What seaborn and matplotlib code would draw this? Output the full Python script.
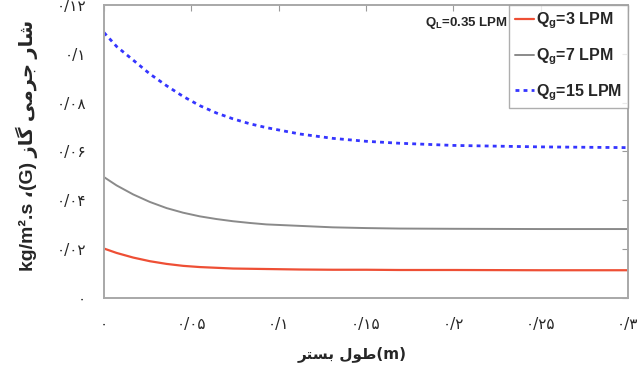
import matplotlib
matplotlib.use("Agg")
import matplotlib.pyplot as plt
import pandas as pd
import seaborn as sns

# Bed length (m) and gas mass flux G (kg/m2.s) for each gas flow rate
bed_length = [0.0, 0.0072, 0.0167, 0.0263, 0.0358, 0.0453, 0.0549, 0.0644,
              0.0739, 0.0834, 0.093, 0.112, 0.131, 0.150, 0.169, 0.200,
              0.250, 0.300]
flux_qg3 = [0.0201, 0.0183, 0.0164, 0.0149, 0.0138, 0.0130, 0.0125, 0.0122,
            0.0119, 0.0118, 0.0117, 0.0115, 0.0114, 0.0114, 0.0113, 0.0113,
            0.0112, 0.0112]
flux_qg7 = [0.0494, 0.0460, 0.0423, 0.0392, 0.0367, 0.0348, 0.0333, 0.0322,
            0.0313, 0.0306, 0.0300, 0.0294, 0.0288, 0.0285, 0.0283, 0.0282,
            0.0281, 0.0281]
flux_qg15 = [0.1087, 0.1030, 0.0974, 0.0917, 0.0869, 0.0825, 0.0787, 0.0757,
             0.0733, 0.0713, 0.0697, 0.0671, 0.0653, 0.0641, 0.0633, 0.0624,
             0.0618, 0.0615]

series_labels = ["Q$_{\\mathrm{g}}$=3 LPM", "Q$_{\\mathrm{g}}$=7 LPM",
                 "Q$_{\\mathrm{g}}$=15 LPM"]
liquid_note = "Q$_{\\mathrm{L}}$=0.35 LPM"

x_ticks = [0.0, 0.05, 0.10, 0.15, 0.20, 0.25, 0.30]
x_tick_labels = ["۰", "۰/۰۵", "۰/۱", "۰/۱۵", "۰/۲", "۰/۲۵", "۰/۳"]
y_ticks = [0.0, 0.02, 0.04, 0.06, 0.08, 0.10, 0.12]
y_tick_labels = ["۰", "۰/۰۲", "۰/۰۴", "۰/۰۶", "۰/۰۸", "۰/۱", "۰/۱۲"]

# Persian axis titles, written with presentation forms in display order
x_title = "\uFEAE\uFE98\uFEB4\uFE91 \uFEDD\uFEEE\uFEC3(m)"
y_title = ("kg/m\u00b2.s \u060C(G) \uFEAF\uFE8E\uFB94 "
           "\uFBFD\uFEE3\uFEAE\uFE9F \uFEAD\uFE8E\uFEB7")

sns.set_theme(style="white")
plt.rcParams["font.family"] = ["Liberation Sans", "DejaVu Sans"]
plt.rcParams["mathtext.fontset"] = "custom"
plt.rcParams["mathtext.rm"] = "Liberation Sans:bold"
plt.rcParams["mathtext.bf"] = "Liberation Sans:bold"
plt.rcParams["mathtext.it"] = "Liberation Sans:bold"

n = len(bed_length)
df = pd.DataFrame({
    "x": bed_length * 3,
    "G": flux_qg3 + flux_qg7 + flux_qg15,
    "series": [series_labels[0]] * n + [series_labels[1]] * n
              + [series_labels[2]] * n,
})

fig = plt.figure(figsize=(6.44, 3.71), dpi=100)
ax = fig.add_axes([0.1615, 0.198, 0.8135, 0.7885])

styles = {
    series_labels[0]: dict(color="#ee4f35", lw=1.6, ls="-"),
    series_labels[1]: dict(color="#8a8a8a", lw=1.4, ls="-"),
    series_labels[2]: dict(color="#3535ff", lw=2.0, ls=(0, (1.4, 1.5))),
}
for name in series_labels:
    st = styles[name]
    sns.lineplot(data=df[df["series"] == name], x="x", y="G", ax=ax,
                 color=st["color"], linewidth=st["lw"], linestyle=st["ls"],
                 label=name)

ax.set_xlim(0, 0.3)
ax.set_ylim(0, 0.12)
ax.set_xticks(x_ticks)
ax.set_xticklabels(x_tick_labels, fontsize=11, family=["DejaVu Sans"])
ax.set_yticks(y_ticks)
ax.set_yticklabels(y_tick_labels, fontsize=11, family=["DejaVu Sans"])
ax.tick_params(axis="both", direction="in", length=4, width=0.8,
               color="#9a9a9a", top=True, right=True)
ax.tick_params(axis="x", pad=14)
ax.tick_params(axis="y", pad=13)
for sp in ax.spines.values():
    sp.set_color("#a8a8a8")
    sp.set_linewidth(1.4)

ax.set_xlabel(x_title, fontsize=11, fontweight="bold",
              family=["DejaVu Sans"])
ax.xaxis.set_label_coords(0.473, -0.165)
ax.set_ylabel(y_title, fontsize=14, fontweight="bold",
              family=["Liberation Sans", "DejaVu Sans"])
ax.yaxis.set_label_coords(-0.126, 0.52)

leg = ax.legend(loc="upper right", borderaxespad=0,
                prop={"weight": "bold", "size": 11.5},
                handlelength=1.2, handletextpad=0.15, labelspacing=0.95,
                fancybox=False, frameon=True, borderpad=0.35)
leg.get_frame().set_edgecolor("#9a9a9a")
leg.get_frame().set_linewidth(1.0)

ax.text(0.771, 0.94, liquid_note, transform=ax.transAxes, ha="right",
        va="center", fontsize=9.5, fontweight="bold")

fig.savefig("out.png", dpi=100)
